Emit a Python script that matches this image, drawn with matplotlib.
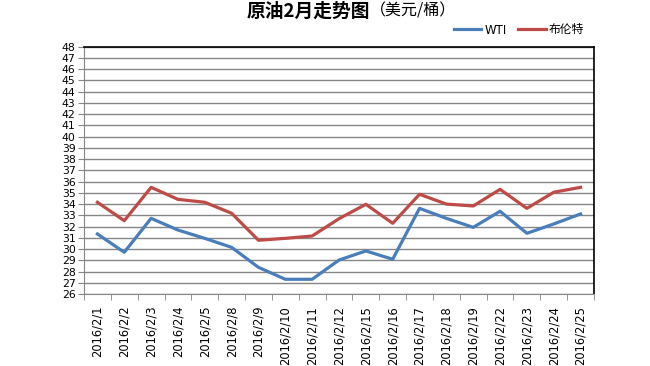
import matplotlib
matplotlib.use("Agg")
import matplotlib.pyplot as plt
import numpy as np

plt.rcParams['font.family'] = ['DejaVu Sans', 'Noto Sans CJK SC']

dates = ["2016/2/1", "2016/2/2", "2016/2/3", "2016/2/4", "2016/2/5", "2016/2/8",
         "2016/2/9", "2016/2/10", "2016/2/11", "2016/2/12", "2016/2/15", "2016/2/16",
         "2016/2/17", "2016/2/18", "2016/2/19", "2016/2/22", "2016/2/23", "2016/2/24",
         "2016/2/25"]
wti = [31.34, 29.71, 32.73, 31.69, 30.95, 30.15, 28.37, 27.31, 27.31, 29.02, 29.83,
       29.09, 33.62, 32.73, 31.93, 33.36, 31.40, 32.23, 33.12]
brent = [34.16, 32.52, 35.49, 34.42, 34.16, 33.18, 30.78, 30.95, 31.16, 32.70, 33.98,
         32.29, 34.87, 34.00, 33.83, 35.31, 33.62, 35.05, 35.49]
series_names = ["WTI", "布伦特"]
yticks = list(range(26, 49))

fig = plt.figure(figsize=(6.5, 3.66), dpi=100)
ax = fig.add_axes([84/650, 1 - 294/366, (594-84)/650, (294-46.7)/366])

x = np.arange(len(dates))
ax.plot(x, wti, color="#4A7EBB", lw=2.3, label=series_names[0], solid_joinstyle='round')
ax.plot(x, brent, color="#BE4B48", lw=2.3, label=series_names[1], solid_joinstyle='round')

ax.set_xlim(-0.5, len(dates) - 0.5)
ax.set_ylim(26, 48)
ax.set_yticks(yticks)
ax.set_yticklabels([str(v) for v in yticks], fontsize=7.8)
ax.set_xticks(x)
ax.set_xticklabels(dates, rotation=90, fontsize=8.3)
ax.tick_params(axis='x', which='major', length=0, pad=8.5)
ax.set_xticks(np.arange(-0.5, len(dates) + 0.5, 1), minor=True)
ax.tick_params(axis='x', which='minor', length=4, color="#868686", direction='out')
ax.tick_params(axis='y', length=4, color="#868686", direction='out', pad=2)
ax.yaxis.grid(True, color="#868686", lw=1)
ax.set_axisbelow(True)
for s in ['left', 'bottom']:
    ax.spines[s].set_color("#868686")
for s in ['top', 'right']:
    ax.spines[s].set_color("black")
    ax.spines[s].set_linewidth(1.2)

fig.text(370/650, 1 - 11/366, "原油2月走势图", fontsize=13.5, fontweight='bold',
         family=['Noto Sans CJK SC'], ha='right', va='center')
fig.text(370/650, 1 - 11/366, "（美元/桶）", fontsize=11.5,
         family=['Noto Sans CJK SC'], ha='left', va='center')

fig.legend(loc='center', bbox_to_anchor=(519/650, 1 - 30/366), ncol=2, frameon=False,
           handlelength=2.3, columnspacing=1.0, handletextpad=0.3,
           prop={'family': ['DejaVu Sans', 'Noto Sans CJK SC'], 'size': 8.5})

fig.savefig("out.png", dpi=100, facecolor='white')
